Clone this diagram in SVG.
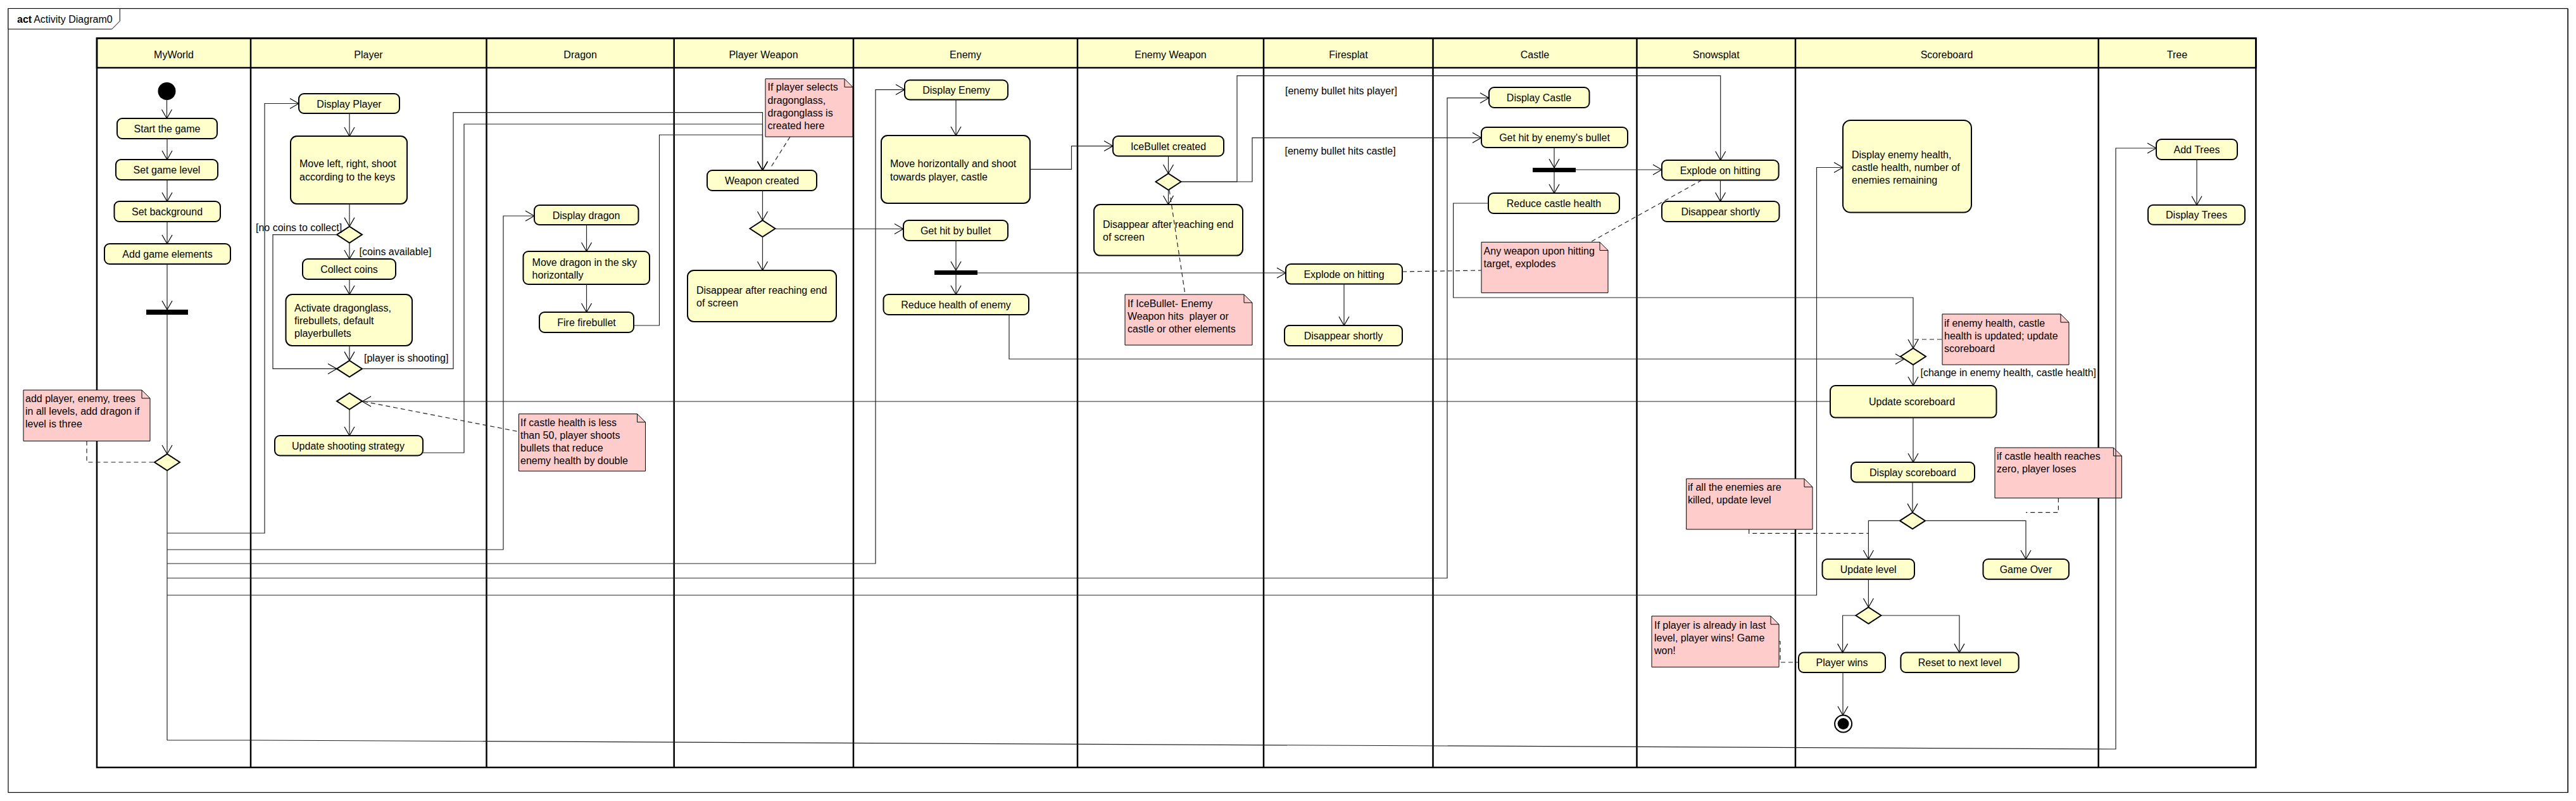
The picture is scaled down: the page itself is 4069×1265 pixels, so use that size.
<svg xmlns="http://www.w3.org/2000/svg" width="4069" height="1265" viewBox="0 0 4069 1265">
<style>
text{font-family:"Liberation Sans",Arial,sans-serif;font-size:16px;fill:#000}
.m{text-anchor:middle}
.lane{fill:none;stroke:#000;stroke-width:2.5}
.hdr{fill:#ffffcc;stroke:#000;stroke-width:2.5}
.act{fill:#ffffcc;stroke:#000;stroke-width:2}
.dec{fill:#ffffcc;stroke:#000;stroke-width:2}
.note{fill:#ffcccc;stroke:#000;stroke-width:1}
.fold{fill:none;stroke:#000;stroke-width:1}
.bar{fill:#000}
.c{fill:none;stroke:#222;stroke-width:1.2;marker-end:url(#ah)}
.p{fill:none;stroke:#222;stroke-width:1.2}
.d{fill:none;stroke:#222;stroke-width:1.2;stroke-dasharray:7,5}
</style>
<defs>
<marker id="ah" markerUnits="userSpaceOnUse" markerWidth="16" markerHeight="18" viewBox="0 0 16 18" refX="15" refY="9" orient="auto"><path d="M1,1 L15,9 L1,17" fill="none" stroke="#000" stroke-width="1.2"/></marker>
</defs>
<rect width="4069" height="1265" fill="#fff"/>
<g id="frame">
<rect x="13" y="13.5" width="4043" height="1238" fill="none" stroke="#000" stroke-width="1.2"/>
<path d="M4056.5,14V1252" stroke="#000" stroke-width="1"/>
<polygon points="13,13.5 189.3,13.5 189.3,33.3 176.7,46 13,46" fill="#fff" stroke="#000" stroke-width="1"/>
<text x="27" y="36"><tspan font-weight="bold">act</tspan><tspan dx="3">Activity Diagram0</tspan></text>
</g>
<g id="swimlanes">
<rect class="hdr" x="153" y="60.4" width="3410.4" height="46.6"/>
<rect class="lane" x="153" y="60.4" width="3410.4" height="1151.6"/>
<path class="lane" d="M396,60.4V1212M768.5,60.4V1212M1064.7,60.4V1212M1348,60.4V1212M1702,60.4V1212M1996,60.4V1212M2263.5,60.4V1212M2585.5,60.4V1212M2836,60.4V1212M3314.7,60.4V1212"/>
<text class="m" x="274.5" y="91.5">MyWorld</text>
<text class="m" x="582" y="91.5">Player</text>
<text class="m" x="916.6" y="91.5">Dragon</text>
<text class="m" x="1206" y="91.5">Player Weapon</text>
<text class="m" x="1525" y="91.5">Enemy</text>
<text class="m" x="1849" y="91.5">Enemy Weapon</text>
<text class="m" x="2130" y="91.5">Firesplat</text>
<text class="m" x="2424.5" y="91.5">Castle</text>
<text class="m" x="2710.7" y="91.5">Snowsplat</text>
<text class="m" x="3075" y="91.5">Scoreboard</text>
<text class="m" x="3439" y="91.5">Tree</text>
</g>

<g id="myworld-initial"><circle cx="263.5" cy="144" r="14" fill="#000"/></g>
<g id="start-game"><rect class="act" x="185" y="187" width="158" height="32" rx="8"/><text class="m" x="264" y="209">Start the game</text></g>
<g id="set-level"><rect class="act" x="183" y="252" width="161" height="32" rx="8"/><text class="m" x="263.5" y="274">Set game level</text></g>
<g id="set-background"><rect class="act" x="180.5" y="318" width="167.5" height="32" rx="8"/><text class="m" x="264" y="340">Set background</text></g>
<g id="add-elements"><rect class="act" x="165" y="385" width="199" height="32" rx="8"/><text class="m" x="264.5" y="407">Add game elements</text></g>
<g id="fork-myworld"><rect class="bar" x="231" y="489" width="66" height="8"/></g>
<g id="decision-myworld"><polygon class="dec" points="244,730 264,717 284,730 264,743"/></g>
<g id="note-myworld"><path class="note" d="M37,616H224L237,629V696.5H37Z"/><path class="fold" d="M224,616V629H237"/>
<text x="40" y="635">add player, enemy, trees</text><text x="40" y="655">in all levels, add dragon if</text><text x="40" y="675">level is three</text></g>

<g id="display-player"><rect class="act" x="472" y="148" width="159" height="31" rx="8"/><text class="m" x="551.5" y="169.5">Display Player</text></g>
<g id="move-player"><rect class="act" x="459" y="215" width="184" height="107" rx="10"/><text x="473" y="264">Move left, right, shoot</text><text x="473" y="285">according to the keys</text></g>
<g id="decision-coins"><polygon class="dec" points="532,370.6 552,357.6 572,370.6 552,383.6"/></g>
<g id="collect-coins"><rect class="act" x="478" y="409" width="147" height="32" rx="8"/><text class="m" x="551.5" y="431">Collect coins</text></g>
<g id="activate"><rect class="act" x="451.5" y="465" width="199.5" height="81" rx="10"/><text x="465" y="491.5">Activate dragonglass,</text><text x="465" y="511.5">firebullets, default</text><text x="465" y="531.5">playerbullets</text></g>
<g id="merge-player"><polygon class="dec" points="532,582.4 552,569.4 572,582.4 552,595.4"/></g>
<g id="decision-strategy"><polygon class="dec" points="532,633.6 552,620.6 572,633.6 552,646.6"/></g>
<g id="update-strategy"><rect class="act" x="434" y="688" width="234" height="31.5" rx="8"/><text class="m" x="550" y="709.5">Update shooting strategy</text></g>
<g id="note-player"><path class="note" d="M819.5,653.7H1006.5L1019.5,666.7V744H819.5Z"/><path class="fold" d="M1006.5,653.7V666.7H1019.5"/>
<text x="822" y="672.5">If castle health is less</text><text x="822" y="692.5">than 50, player shoots</text><text x="822" y="712.5">bullets that reduce</text><text x="822" y="732.5">enemy health by double</text></g>

<g id="display-dragon"><rect class="act" x="844" y="324" width="164.5" height="31" rx="8"/><text class="m" x="926" y="345.5">Display dragon</text></g>
<g id="move-dragon"><rect class="act" x="826.5" y="397" width="199.5" height="52" rx="8"/><text x="840.6" y="419.5">Move dragon in the sky</text><text x="840.6" y="439.5">horizontally</text></g>
<g id="fire-firebullet"><rect class="act" x="852" y="493" width="149" height="32" rx="8"/><text class="m" x="926.5" y="515">Fire firebullet</text></g>

<g id="note-weapon"><path class="note" d="M1209,124.5H1334L1347,137.5V216H1209Z"/><path class="fold" d="M1334,124.5V137.5H1347"/>
<text x="1212.5" y="143">If player selects</text><text x="1212.5" y="163.5">dragonglass,</text><text x="1212.5" y="184">dragonglass is</text><text x="1212.5" y="204">created here</text></g>
<g id="weapon-created"><rect class="act" x="1117" y="269" width="173" height="32" rx="8"/><text class="m" x="1203.5" y="291">Weapon created</text></g>
<g id="decision-weapon"><polygon class="dec" points="1184.5,361 1204.5,348 1224.5,361 1204.5,374"/></g>
<g id="disappear-pw"><rect class="act" x="1086" y="427" width="235" height="81" rx="10"/><text x="1100" y="464">Disappear after reaching end</text><text x="1100" y="484">of screen</text></g>

<g id="display-enemy"><rect class="act" x="1429" y="126.5" width="163" height="31" rx="8"/><text class="m" x="1510.5" y="148">Display Enemy</text></g>
<g id="move-enemy"><rect class="act" x="1392" y="214" width="235" height="107" rx="10"/><text x="1406" y="264">Move horizontally and shoot</text><text x="1406" y="285">towards player, castle</text></g>
<g id="hit-enemy"><rect class="act" x="1427" y="348" width="165" height="32" rx="8"/><text class="m" x="1509.5" y="370">Get hit by bullet</text></g>
<g id="fork-enemy"><rect class="bar" x="1476" y="427" width="68" height="7"/></g>
<g id="reduce-enemy"><rect class="act" x="1395.5" y="465" width="229.5" height="32" rx="8"/><text class="m" x="1510" y="487">Reduce health of enemy</text></g>

<g id="icebullet"><rect class="act" x="1758" y="215" width="175" height="31.5" rx="8"/><text class="m" x="1845.5" y="236.5">IceBullet created</text></g>
<g id="decision-ice"><polygon class="dec" points="1825.5,287 1845.5,274 1865.5,287 1845.5,300"/></g>
<g id="disappear-ew"><rect class="act" x="1728" y="323" width="235" height="80.6" rx="10"/><text x="1742" y="360">Disappear after reaching end</text><text x="1742" y="380">of screen</text></g>
<g id="note-ice"><path class="note" d="M1777,465H1965L1978,478V545H1777Z"/><path class="fold" d="M1965,465V478H1978"/>
<text x="1781" y="485">If IceBullet- Enemy</text><text x="1781" y="505" style="white-space:pre">Weapon hits  player or</text><text x="1781" y="525">castle or other elements</text></g>

<g id="explode-fire"><rect class="act" x="2031" y="417" width="184" height="31.6" rx="8"/><text class="m" x="2123" y="438.8">Explode on hitting</text></g>
<g id="disappear-fire"><rect class="act" x="2029" y="514" width="186" height="32" rx="8"/><text class="m" x="2122" y="536">Disappear shortly</text></g>

<g id="display-castle"><rect class="act" x="2352" y="138" width="158.5" height="32" rx="8"/><text class="m" x="2431" y="160">Display Castle</text></g>
<g id="hit-castle"><rect class="act" x="2340" y="201" width="231" height="32" rx="8"/><text class="m" x="2455.5" y="223">Get hit by enemy's bullet</text></g>
<g id="fork-castle"><rect class="bar" x="2421" y="265" width="68" height="7"/></g>
<g id="reduce-castle"><rect class="act" x="2351" y="305" width="207" height="32" rx="8"/><text class="m" x="2454.5" y="327">Reduce castle health</text></g>
<g id="note-explode"><path class="note" d="M2340,382.4H2527L2540,395.4V462.4H2340Z"/><path class="fold" d="M2527,382.4V395.4H2540"/>
<text x="2343.6" y="402">Any weapon upon hitting</text><text x="2343.6" y="422">target, explodes</text></g>

<g id="explode-snow"><rect class="act" x="2625" y="253" width="184.6" height="31.5" rx="8"/><text class="m" x="2717.3" y="274.7">Explode on hitting</text></g>
<g id="disappear-snow"><rect class="act" x="2625" y="318" width="185.5" height="32" rx="8"/><text class="m" x="2717.7" y="340">Disappear shortly</text></g>
<g id="note-level"><path class="note" d="M2663.7,756H2850L2863,769V836H2663.7Z"/><path class="fold" d="M2850,756V769H2863"/>
<text x="2666" y="775">if all the enemies are</text><text x="2666" y="795">killed, update level</text></g>
<g id="note-win"><path class="note" d="M2609,973H2797L2810,986V1053.5H2609Z"/><path class="fold" d="M2797,973V986H2810"/>
<text x="2613" y="993">If player is already in last</text><text x="2613" y="1013">level, player wins! Game</text><text x="2613" y="1033">won!</text></g>

<g id="display-health"><rect class="act" x="2911" y="190" width="203" height="145.5" rx="12"/><text x="2925" y="249.7">Display enemy health,</text><text x="2925" y="269.7">castle health, number of</text><text x="2925" y="290">enemies remaining</text></g>
<g id="decision-change"><polygon class="dec" points="3002,563 3022,550 3042,563 3022,576"/></g>
<g id="note-scoreboard"><path class="note" d="M3068,496H3255L3268,509V576H3068Z"/><path class="fold" d="M3255,496V509H3268"/>
<text x="3071" y="516">if enemy health, castle</text><text x="3071" y="536">health is updated; update</text><text x="3071" y="556">scoreboard</text></g>
<g id="update-scoreboard"><rect class="act" x="2891" y="609" width="262.5" height="50.6" rx="8"/><text class="m" x="3020" y="640">Update scoreboard</text></g>
<g id="display-scoreboard"><rect class="act" x="2924" y="730" width="195" height="31.6" rx="8"/><text class="m" x="3021.5" y="751.8">Display scoreboard</text></g>
<g id="decision-outcome"><polygon class="dec" points="3001,822.4 3021,809.4 3041,822.4 3021,835.4"/></g>
<g id="update-level"><rect class="act" x="2878.5" y="883" width="145.5" height="31.7" rx="8"/><text class="m" x="2951.2" y="904.8">Update level</text></g>
<g id="game-over"><rect class="act" x="3132.5" y="883" width="135.5" height="31.7" rx="8"/><text class="m" x="3200" y="904.8">Game Over</text></g>
<g id="note-lose"><path class="note" d="M3151,707H3338.4L3351.4,720V786.5H3151Z"/><path class="fold" d="M3338.4,707V720H3351.4"/>
<text x="3154" y="725.6">if castle health reaches</text><text x="3154" y="745.6">zero, player loses</text></g>
<g id="decision-last"><polygon class="dec" points="2931.4,972 2951.4,959 2971.4,972 2951.4,985"/></g>
<g id="player-wins"><rect class="act" x="2841" y="1030.6" width="137" height="31.4" rx="8"/><text class="m" x="2909.5" y="1052.3">Player wins</text></g>
<g id="reset-level"><rect class="act" x="3002.4" y="1030.6" width="186.3" height="31.4" rx="8"/><text class="m" x="3095.5" y="1052.3">Reset to next level</text></g>
<g id="final"><circle cx="2911.6" cy="1143" r="13.5" fill="#fff" stroke="#000" stroke-width="2"/><circle cx="2911.6" cy="1143" r="9" fill="#000"/></g>

<g id="add-trees"><rect class="act" x="3406" y="220" width="128" height="32" rx="8"/><text class="m" x="3470" y="242">Add Trees</text></g>
<g id="display-trees"><rect class="act" x="3393" y="323.7" width="153" height="31" rx="8"/><text class="m" x="3469.5" y="345.2">Display Trees</text></g>

<g id="connectors">
<path class="c" d="M263.5,158V187"/>
<path class="c" d="M264,219V252"/>
<path class="c" d="M264,284V318"/>
<path class="c" d="M264,350V385"/>
<path class="c" d="M264,417V489"/>
<path class="c" d="M264,497V717"/>
<path class="p" d="M264,743V1169"/>
<path class="c" d="M264,842H418V163.5H472"/>
<path class="c" d="M264,868H795V341H844"/>
<path class="c" d="M264,890H1383V141.6H1429"/>
<path class="c" d="M264,913H2286V154.7H2352"/>
<path class="c" d="M264,940H2869.5V264.5H2911"/>
<path class="c" d="M264,1169L400,1169L3342,1183V234H3406"/>
<path class="c" d="M552,179V215"/>
<path class="c" d="M552,322V357.6"/>
<path class="c" d="M552,383.6V409"/>
<path class="c" d="M532,370.6H431V582.4H532"/>
<path class="c" d="M552,441V465"/>
<path class="c" d="M552,546V569.4"/>
<path class="c" d="M572,582.4H716V177.6H1204.5V269"/>
<path class="c" d="M668,715H733V196H1204.5V269"/>
<path class="c" d="M1001,514H1041.5V213H1204.5V269"/>
<path class="c" d="M552,646.6V688"/>
<path class="c" d="M2891,634H572"/>
<path class="c" d="M926.5,355V397"/>
<path class="c" d="M926.5,449V493"/>
<path class="c" d="M1204.5,301V348"/>
<path class="c" d="M1204.5,374V427"/>
<path class="c" d="M1224.5,361.5H1427"/>
<path class="c" d="M1510,157.5V214"/>
<path class="c" d="M1627,267.3H1692.5V230.6H1758"/>
<path class="c" d="M1510,380V427"/>
<path class="c" d="M1510,434V465"/>
<path class="c" d="M1544,431H2031"/>
<path class="c" d="M1594,497V567H3008"/>
<path class="c" d="M1845.5,246.5V274"/>
<path class="c" d="M1845.5,300V323"/>
<path class="c" d="M1866,287H1954V119.6H2717.7V253"/>
<path class="c" d="M1866,287H1978V217.6H2340"/>
<path class="c" d="M2123,448.6V514"/>
<path class="c" d="M2455,233V265"/>
<path class="c" d="M2455,272V305"/>
<path class="c" d="M2489,268H2625"/>
<path class="c" d="M2717.5,284.5V318"/>
<path class="c" d="M2351,321H2295.6V470H3022V550"/>
<path class="c" d="M3022,576V609"/>
<path class="c" d="M3022,659.6V730"/>
<path class="c" d="M3021,761.6V809.4"/>
<path class="c" d="M3001,822.4H2951.4V883"/>
<path class="c" d="M3041,822.4H3200V883"/>
<path class="c" d="M2951.4,914.7V959"/>
<path class="c" d="M2931.4,972H2910.6V1030.6"/>
<path class="c" d="M2971.4,972H3095V1030.6"/>
<path class="c" d="M2911,1062V1129.5"/>
<path class="c" d="M3470,252V323.7"/>
<path class="d" d="M137,696.5V730H244"/>
<path class="d" d="M574,634L819.5,681.7"/>
<path class="d" d="M1248,216L1216.5,266"/>
<path class="d" d="M1847,300L1872,465"/>
<path class="d" d="M2215,429L2340,427"/>
<path class="d" d="M2688,284.5L2512,382.4"/>
<path class="d" d="M3024,536H3068"/>
<path class="d" d="M2762.7,836V842.4H2951.4"/>
<path class="d" d="M3251.4,786.5V809.4H3200"/>
<path class="d" d="M2810,1013H2812V1046H2841"/>
<text x="404" y="365">[no coins to collect]</text>
<text x="567.6" y="403">[coins available]</text>
<text x="575" y="571">[player is shooting]</text>
<text x="2030" y="148.5">[enemy bullet hits player]</text>
<text x="2029.5" y="244">[enemy bullet hits castle]</text>
<text x="3033.5" y="594">[change in enemy health, castle health]</text>
</g>
</svg>
